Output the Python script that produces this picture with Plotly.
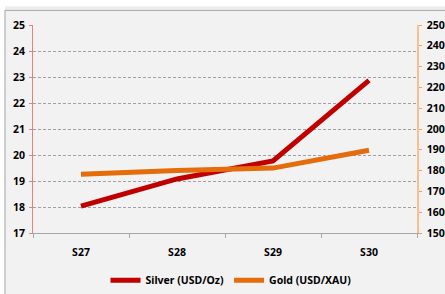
import plotly.graph_objects as go

categories = ["S27", "S28", "S29", "S30"]
silver = [18.03, 19.08, 19.77, 22.87]
gold = [1782, 1801, 1812, 1898]

left_ticks = [17, 18, 19, 20, 21, 22, 23, 24, 25]
right_ticks = [1500, 1600, 1700, 1800, 1900, 2000, 2100, 2200, 2300, 2400, 2500]

FONT = dict(family="Noto Sans, sans-serif", size=10.5, color="#000000", weight=700)
BG = "#f2f2f2"

fig = go.Figure()
fig.add_trace(go.Scatter(x=categories, y=silver, mode="lines", name="Silver (USD/Oz)",
                         line=dict(color="#c00000", width=5), yaxis="y"))
fig.add_trace(go.Scatter(x=categories, y=gold, mode="lines", name="Gold (USD/XAU)",
                         line=dict(color="#e46c0a", width=5), yaxis="y2"))

# plot area: x 33..417 px, y 24.7..232.7 px
def px_x(p):
    return (p - 33) / 384.0

def px_y(p):
    return (232.7 - p) / 208.0

shapes = [
    dict(type="rect", xref="paper", yref="paper", x0=px_x(-5), x1=px_x(460), y0=px_y(10), y1=px_y(-5),
         fillcolor="#ffffff", line=dict(width=0), layer="below"),
    dict(type="rect", xref="paper", yref="paper", x0=px_x(-5), x1=px_x(5), y0=px_y(300), y1=px_y(-5),
         fillcolor="#ffffff", line=dict(width=0), layer="below"),
    dict(type="line", xref="paper", yref="paper", x0=px_x(5), x1=px_x(460), y0=px_y(7.5), y1=px_y(7.5),
         line=dict(color="#ececec", width=3), layer="below"),
    dict(type="line", xref="paper", yref="paper", x0=px_x(5), x1=px_x(460), y0=px_y(10), y1=px_y(10),
         line=dict(color="#b0b0b0", width=1.2), layer="below"),
    dict(type="line", xref="paper", yref="paper", x0=px_x(5), x1=px_x(5), y0=px_y(10), y1=px_y(300),
         line=dict(color="#b0b0b0", width=1.2), layer="below"),
]

fig.update_layout(
    width=445, height=294,
    margin=dict(l=33, r=28, t=24.7, b=294 - 232.7, autoexpand=False),
    paper_bgcolor=BG, plot_bgcolor=BG,
    font=FONT,
    showlegend=True,
    legend=dict(orientation="h", x=px_x(231), xanchor="center", y=px_y(280), yanchor="middle",
                font=FONT, bgcolor="rgba(0,0,0,0)", itemwidth=30, tracegroupgap=0),
    xaxis=dict(type="category", categoryorder="array", categoryarray=categories,
               range=[-0.5, 3.5], tickson="boundaries", ticks="outside", ticklen=4,
               tickcolor="#a6a6a6", showline=True, linecolor="#a6a6a6", linewidth=1,
               showgrid=False, tickfont=FONT, fixedrange=True, automargin=False,
               ticklabelstandoff=9),
    yaxis=dict(range=[17, 25], tickvals=left_ticks, showline=True, linecolor="#e48080",
               linewidth=1, ticks="outside", ticklen=3, tickcolor="#e48080",
               showgrid=True, gridcolor="#a0a0a0", griddash="3px,2px", gridwidth=1,
               zeroline=False, tickfont=FONT, fixedrange=True, automargin=False,
               ticklabelstandoff=2),
    yaxis2=dict(range=[1500, 2500], tickvals=right_ticks, overlaying="y", side="right",
                showline=True, linecolor="#fac090", linewidth=1.5, ticks="outside", ticklen=3,
                tickcolor="#f5a060", showgrid=False, zeroline=False, tickfont=FONT,
                fixedrange=True, automargin=False, ticklabelstandoff=3),
    shapes=shapes,
)

fig.write_html("out.html", config={"displayModeBar": False},
               post_script="document.body.style.margin='0';document.body.style.overflow='hidden';")
